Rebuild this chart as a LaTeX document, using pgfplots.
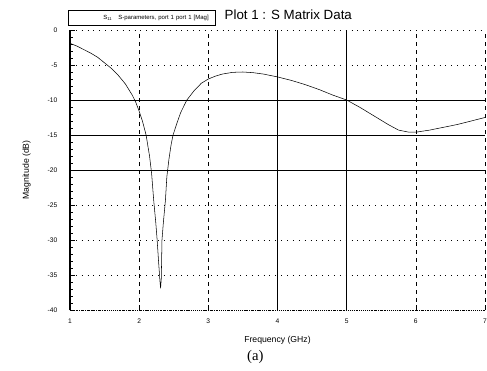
\documentclass[border=0pt]{standalone}
\usepackage{fontspec}
\setmainfont{Liberation Sans}
\newfontfamily\serifa{Liberation Serif}
\usepackage{pgfplots}
\pgfplotsset{compat=1.18}
\begin{document}
\begin{tikzpicture}[x=1pt,y=1pt]
\useasboundingbox (-52.5,-45.75) rectangle (312.75,232.5);
\begin{axis}[
  at={(0,0)}, anchor=south west,
  scale only axis, width=311.25pt, height=210pt,
  xmin=1, xmax=7, ymin=-40, ymax=0,
  axis x line*=bottom, axis y line*=left,
  x axis line style={densely dotted, thin},
  y axis line style={thick},
  xtick={1,2,3,4,5,6,7},
  ytick={0,-5,-10,-15,-20,-25,-30,-35,-40},
  minor y tick num=4,
  tick align=inside,
  major tick length=4pt, minor tick length=2pt,
  tick style={black, thin},
  xmajorgrids, ymajorgrids,
  x grid style={black, dashed, thin},
  y grid style={black, loosely dotted, thin},
  extra x ticks={4,5}, extra x tick labels={},
  extra x tick style={grid=major, x grid style={black, solid, semithick}},
  extra y ticks={-10,-15,-20}, extra y tick labels={},
  extra y tick style={grid=major, y grid style={black, solid, semithick}},
  ticklabel style={font=\fontsize{5}{6}\selectfont},
  yticklabel style={xshift=-6pt},
  xticklabel style={yshift=-3pt},
  /pgf/number format/assume math mode=true,
  xlabel={Frequency (GHz)},
  ylabel={Magnitude (dB)},
  xlabel style={font=\fontsize{6.5}{8}\selectfont, at={(axis description cs:0.5,0)}, anchor=north, yshift=-16pt},
  ylabel style={font=\fontsize{6.5}{8}\selectfont, at={(axis description cs:0,0.5)}, anchor=south, xshift=0pt, yshift=26pt},
  clip=false,
  legend style={at={(axis description cs:-0.004,1.016)}, anchor=south west,
    font=\fontsize{4.5}{5}\selectfont, draw=black, line width=0.6pt,
    inner sep=1pt, minimum width=108pt, text width=100pt, align=right,
    legend cell align=right},
  legend image code/.code={},
]
\addplot[black, thin] coordinates {
(1.0,-1.9) (1.1,-2.3) (1.2,-2.8) (1.3,-3.3) (1.4,-3.9) (1.5,-4.7)
(1.6,-5.5) (1.7,-6.5) (1.8,-7.7) (1.9,-9.3) (1.95,-10.3) (2.0,-11.6)
(2.05,-13.1) (2.1,-15.0) (2.15,-18.0) (2.18,-20.5) (2.21,-24.3)
(2.24,-27.5) (2.26,-30) (2.28,-33) (2.30,-35.8) (2.31,-36.9)
(2.32,-35.5) (2.33,-30) (2.35,-27.5) (2.38,-24.3) (2.40,-21)
(2.43,-18.5) (2.46,-16.5) (2.49,-15) (2.55,-13.2) (2.6,-11.8)
(2.69,-10) (2.8,-8.6) (2.9,-7.6) (3.0,-7.0) (3.1,-6.6) (3.2,-6.3)
(3.35,-6.05) (3.5,-6.0) (3.65,-6.1) (3.8,-6.3) (4.0,-6.7) (4.2,-7.2)
(4.4,-7.8) (4.6,-8.5) (4.8,-9.3) (5.0,-10.0) (5.2,-11.1) (5.4,-12.3)
(5.6,-13.5) (5.75,-14.3) (5.9,-14.6) (6.0,-14.6) (6.2,-14.3)
(6.4,-13.9) (6.6,-13.5) (6.8,-13.0) (7.0,-12.5)
};
\addlegendentry{S\textsubscript{11}\quad S-parameters, port 1 port 1 [Mag]}
\end{axis}
\node[anchor=west, font=\fontsize{10}{12}\selectfont] at (112.5,221.25) {Plot 1 : S Matrix Data};
\node[font=\serifa\fontsize{11}{13}\selectfont] at (139,-35.5) {(a)};
\end{tikzpicture}
\end{document}
